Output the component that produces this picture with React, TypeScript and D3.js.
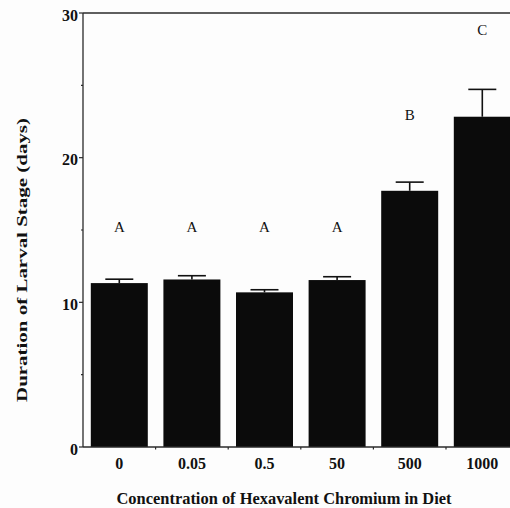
import React from "react";
import * as d3 from "d3";

const categories = ["0", "0.05", "0.5", "50", "500", "1000"];
const means = [11.33, 11.58, 10.69, 11.54, 17.71, 22.83];
const errors = [0.27, 0.26, 0.18, 0.23, 0.6, 1.89];
const letters = ["A", "A", "A", "A", "B", "C"];
const letterPos = [14.86, 14.86, 14.86, 14.86, 22.6, 28.47];
const majorTicks = [0, 10, 20, 30];
const minorTicks = [5, 15, 25];

const W = 510;
const H = 508;
const FONT = "'Liberation Serif', 'Times New Roman', 'DejaVu Serif', serif";

export default function App() {
  const x = d3
    .scaleBand<string>()
    .domain(categories)
    .range([83, 518.6])
    .paddingInner(0.215)
    .paddingOuter(0.1075);
  const y = d3.scaleLinear().domain([0, 30]).range([447, 13]);
  const bw = x.bandwidth();
  const cap = 28;
  const axisColor = "#2a2a2a";

  return (
    <svg
      width={W}
      height={H}
      style={{ position: "absolute", left: 0, top: 0, background: "#fdfdfd" }}
      fontFamily={FONT}
    >
      <rect x={0} y={0} width={W} height={H} fill="#fdfdfd" />
      {/* bars */}
      {categories.map((c, i) => (
        <rect
          key={"b" + c}
          x={x(c)}
          y={y(means[i])}
          width={bw}
          height={y(0) - y(means[i])}
          fill="#0b0b0b"
        />
      ))}
      {/* error bars */}
      {categories.map((c, i) => {
        const cx = (x(c) as number) + bw / 2;
        return (
          <g key={"e" + c} stroke="#111" strokeWidth={1.6}>
            <line x1={cx} x2={cx} y1={y(means[i])} y2={y(means[i] + errors[i])} />
            <line
              x1={cx - cap / 2}
              x2={cx + cap / 2}
              y1={y(means[i] + errors[i])}
              y2={y(means[i] + errors[i])}
            />
          </g>
        );
      })}
      {/* letters */}
      {categories.map((c, i) => (
        <text
          key={"l" + c}
          x={(x(c) as number) + bw / 2}
          y={y(letterPos[i])}
          textAnchor="middle"
          fontSize={15}
          fill="#111"
        >
          {letters[i]}
        </text>
      ))}
      {/* frame */}
      <line x1={83} x2={W} y1={y(30)} y2={y(30)} stroke={axisColor} strokeWidth={1.5} />
      <line x1={83} x2={83} y1={y(30)} y2={y(0)} stroke={axisColor} strokeWidth={1.3} />
      <line x1={83} x2={W} y1={y(0)} y2={y(0)} stroke={axisColor} strokeWidth={1.3} />
      {/* y ticks */}
      {majorTicks.map((t) => (
        <g key={"yt" + t}>
          <line x1={79} x2={83} y1={y(t)} y2={y(t)} stroke={axisColor} strokeWidth={1.2} />
          <text
            x={78}
            y={y(t) + 7.5}
            textAnchor="end"
            fontSize={16}
            fontWeight="bold"
            fill="#111"
          >
            {t}
          </text>
        </g>
      ))}
      {minorTicks.map((t) => (
        <line key={"ym" + t} x1={81} x2={83} y1={y(t)} y2={y(t)} stroke={axisColor} strokeWidth={1.2} />
      ))}
      {/* x ticks between bars */}
      {categories.slice(1).map((c) => {
        const bx = (x(c) as number) - (x.step() - bw) / 2;
        return (
          <line key={"xt" + c} x1={bx} x2={bx} y1={y(0)} y2={y(0) + 2.5} stroke={axisColor} strokeWidth={1.2} />
        );
      })}
      {/* x tick labels */}
      {categories.map((c) => (
        <text
          key={"xl" + c}
          x={(x(c) as number) + bw / 2}
          y={469}
          textAnchor="middle"
          fontSize={16}
          fontWeight="bold"
          fill="#111"
        >
          {c}
        </text>
      ))}
      {/* axis titles */}
      <text
        x={284}
        y={504}
        textAnchor="middle"
        fontSize={16}
        fontWeight="bold"
        fill="#111"
        textLength={335}
        lengthAdjust="spacingAndGlyphs"
      >
        Concentration of Hexavalent Chromium in Diet
      </text>
      <text
        transform="translate(27,260) rotate(-90)"
        textAnchor="middle"
        fontSize={15}
        fontWeight="bold"
        fill="#111"
        textLength={284}
        lengthAdjust="spacingAndGlyphs"
      >
        Duration of Larval Stage (days)
      </text>
    </svg>
  );
}
